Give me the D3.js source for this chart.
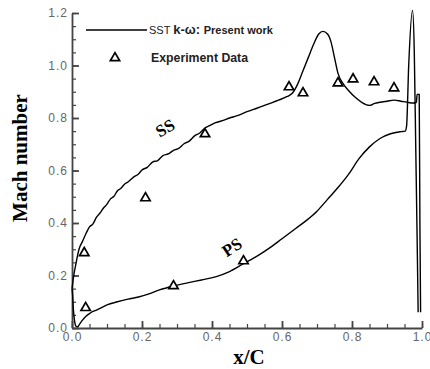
<!DOCTYPE html>
<html>
<head>
<meta charset="utf-8">
<script src="https://cdnjs.cloudflare.com/ajax/libs/d3/7.8.5/d3.min.js"></script>
<style>
  body { margin: 0; background: #fff; }
  .tick text { font-family: Arial, "Liberation Sans", sans-serif; fill: #666; }
</style>
</head>
<body>
<div id="chart"></div>
<script>
// suction side (SS) curve, x/C and Mach
var ssX = [0.0, 0.005, 0.012, 0.02, 0.03, 0.04, 0.05, 0.06, 0.07, 0.08, 0.09, 0.10, 0.11, 0.12, 0.13, 0.14,
  0.15, 0.16, 0.175, 0.19, 0.2, 0.215, 0.23, 0.245, 0.26, 0.275, 0.29, 0.305, 0.32, 0.335, 0.35, 0.365,
  0.38, 0.395, 0.41, 0.43, 0.45, 0.47, 0.5, 0.53, 0.56, 0.59, 0.615, 0.63, 0.645, 0.66, 0.675, 0.69,
  0.705, 0.717, 0.73, 0.74, 0.75, 0.76, 0.775, 0.79, 0.81, 0.83, 0.85, 0.865, 0.88, 0.9, 0.92, 0.94,
  0.957, 0.975, 0.984, 0.986, 0.992, 0.994, 0.996];
var ssM = [0.15, 0.2, 0.25, 0.3, 0.33, 0.36, 0.385, 0.397, 0.422, 0.438, 0.457, 0.472, 0.492, 0.502, 0.523, 0.532,
  0.548, 0.556, 0.574, 0.587, 0.602, 0.612, 0.632, 0.638, 0.657, 0.663, 0.677, 0.684, 0.702, 0.712, 0.732, 0.743,
  0.762, 0.772, 0.782, 0.79, 0.8, 0.808, 0.824, 0.838, 0.853, 0.868, 0.882, 0.895, 0.93, 0.98, 1.03, 1.08,
  1.12, 1.13, 1.12, 1.09, 1.03, 0.97, 0.93, 0.905, 0.878, 0.858, 0.848, 0.856, 0.86, 0.864, 0.868, 0.864,
  0.86, 0.857, 0.86, 0.89, 0.89, 0.4, 0.06];

// pressure side (PS) curve
var psX = [0.0, 0.002, 0.004, 0.007, 0.011, 0.016, 0.022, 0.03, 0.04, 0.05, 0.06, 0.07, 0.085, 0.1, 0.13, 0.16,
  0.19, 0.22, 0.25, 0.29, 0.33, 0.37, 0.41, 0.45, 0.49, 0.53, 0.57, 0.6, 0.64, 0.67, 0.7, 0.73, 0.76,
  0.79, 0.82, 0.85, 0.88, 0.91, 0.94, 0.952, 0.956, 0.962, 0.973, 0.978, 0.982, 0.986, 0.989];
var psM = [0.15, 0.12, 0.07, 0.03, 0.008, 0.005, 0.015, 0.03, 0.045, 0.055, 0.063, 0.068, 0.078, 0.088, 0.1, 0.11,
  0.118, 0.13, 0.145, 0.16, 0.172, 0.183, 0.195, 0.215, 0.245, 0.275, 0.31, 0.34, 0.38, 0.41, 0.445, 0.49, 0.535,
  0.585, 0.645, 0.69, 0.722, 0.74, 0.748, 0.75, 0.77, 1.0, 1.21, 1.05, 0.7, 0.35, 0.06];

// experiment data
var expX = [0.035, 0.039, 0.21, 0.29, 0.38, 0.49, 0.62, 0.66, 0.76, 0.803, 0.863, 0.92];
var expM = [0.286, 0.077, 0.495, 0.16, 0.739, 0.255, 0.918, 0.895, 0.933, 0.948, 0.937, 0.914];

var xTicks = [0, 0.2, 0.4, 0.6, 0.8, 1.0];
var yTicks = [0, 0.2, 0.4, 0.6, 0.8, 1.0, 1.2];

var width = 430, height = 369;
var margin = {top: 13, right: 8, bottom: 41, left: 72};

var svg = d3.select("#chart").append("svg")
  .attr("width", width)
  .attr("height", height);

var x = d3.scaleLinear().domain([0, 1]).range([margin.left, width - margin.right]);
var y = d3.scaleLinear().domain([0, 1.2]).range([height - margin.bottom, margin.top]);

// minor ticks every 0.05
var xMinor = d3.range(0, 1.0001, 0.05);
var yMinor = d3.range(0, 1.2001, 0.05);

svg.append("g")
  .attr("transform", "translate(0," + y(0) + ")")
  .call(d3.axisTop(x).tickValues(xMinor).tickSize(4).tickFormat(""))
  .call(function(g) { g.select(".domain").remove(); })
  .selectAll("line").attr("stroke", "#444").attr("stroke-width", 1.2);

svg.append("g")
  .attr("transform", "translate(" + x(0) + ",0)")
  .call(d3.axisRight(y).tickValues(yMinor).tickSize(4).tickFormat(""))
  .call(function(g) { g.select(".domain").remove(); })
  .selectAll("line").attr("stroke", "#444").attr("stroke-width", 1.2);

var xAxis = svg.append("g")
  .attr("transform", "translate(0," + y(0) + ")")
  .call(d3.axisTop(x).tickValues(xTicks).tickSize(7).tickSizeOuter(0).tickFormat(d3.format(".1f")));
xAxis.select(".domain").attr("stroke", "#444").attr("stroke-width", 1.8);
xAxis.selectAll("line").attr("stroke", "#444").attr("stroke-width", 1.8);
xAxis.selectAll("text")
  .attr("y", 13).attr("dy", 0)
  .style("font-size", "12px").style("letter-spacing", "1px");

var yAxis = svg.append("g")
  .attr("transform", "translate(" + x(0) + ",0)")
  .call(d3.axisRight(y).tickValues(yTicks).tickSize(7).tickSizeOuter(0).tickFormat(d3.format(".1f")));
yAxis.select(".domain").attr("stroke", "#444").attr("stroke-width", 1.8);
yAxis.selectAll("line").attr("stroke", "#444").attr("stroke-width", 1.8);
yAxis.selectAll("text")
  .attr("x", -4).attr("text-anchor", "end")
  .style("font-size", "12px").style("letter-spacing", "1px");

// curves
var line = d3.line()
  .x(function(d) { return x(d[0]); })
  .y(function(d) { return y(d[1]); })
  .curve(d3.curveMonotoneX);

var ss = d3.zip(ssX, ssM);
var ps = d3.zip(psX, psM);

svg.selectAll(".curve")
  .data([ss, ps])
  .enter().append("path")
  .attr("class", "curve")
  .attr("d", line)
  .attr("fill", "none")
  .attr("stroke", "#000")
  .attr("stroke-width", 1.4);

// experiment triangles
var tri = d3.symbol().type(d3.symbolTriangle).size(38);
svg.selectAll(".exp")
  .data(d3.zip(expX, expM))
  .enter().append("path")
  .attr("class", "exp")
  .attr("d", tri)
  .attr("transform", function(d) { return "translate(" + x(d[0]) + "," + y(d[1]) + ")"; })
  .attr("fill", "#fff")
  .attr("stroke", "#000")
  .attr("stroke-width", 1.7);

// SS / PS labels
svg.append("text")
  .attr("transform", "translate(168,133) rotate(-30)")
  .attr("text-anchor", "middle")
  .style("font-family", "'Liberation Serif', 'Times New Roman', serif")
  .style("font-weight", "bold").style("font-size", "17px")
  .text("SS");

svg.append("text")
  .attr("transform", "translate(235,252) rotate(-33)")
  .attr("text-anchor", "middle")
  .style("font-family", "'Liberation Serif', 'Times New Roman', serif")
  .style("font-weight", "bold").style("font-size", "17px")
  .text("PS");

// axis titles
svg.append("text")
  .attr("transform", "translate(27,158) rotate(-90)")
  .attr("text-anchor", "middle")
  .style("font-family", "'Liberation Serif', 'Times New Roman', serif")
  .style("font-weight", "bold").style("font-size", "21px")
  .text("Mach number");

svg.append("text")
  .attr("x", 249).attr("y", 364)
  .attr("text-anchor", "middle")
  .style("font-family", "'Liberation Serif', 'Times New Roman', serif")
  .style("font-weight", "bold").style("font-size", "21px")
  .text("x/C");

// legend
var legend = svg.append("g")
  .style("font-family", "Arial, 'Liberation Sans', sans-serif")
  .style("font-weight", "bold")
  .attr("fill", "#222");

legend.append("line")
  .attr("x1", 86).attr("x2", 147).attr("y1", 30).attr("y2", 30)
  .attr("stroke", "#000").attr("stroke-width", 1.6);

var t1 = legend.append("text").attr("x", 149).attr("y", 33.5).style("font-size", "11px");
t1.append("tspan").style("font-weight", "normal").text("SST ");
t1.append("tspan").style("font-size", "13px").text("k-ω: ");
t1.append("tspan").text("Present work");

legend.append("path")
  .attr("d", tri)
  .attr("transform", "translate(115,58)")
  .attr("fill", "#fff").attr("stroke", "#000").attr("stroke-width", 1.7);

legend.append("text")
  .attr("x", 151).attr("y", 61.5)
  .style("font-size", "12.3px")
  .text("Experiment Data");
</script>
</body>
</html>
